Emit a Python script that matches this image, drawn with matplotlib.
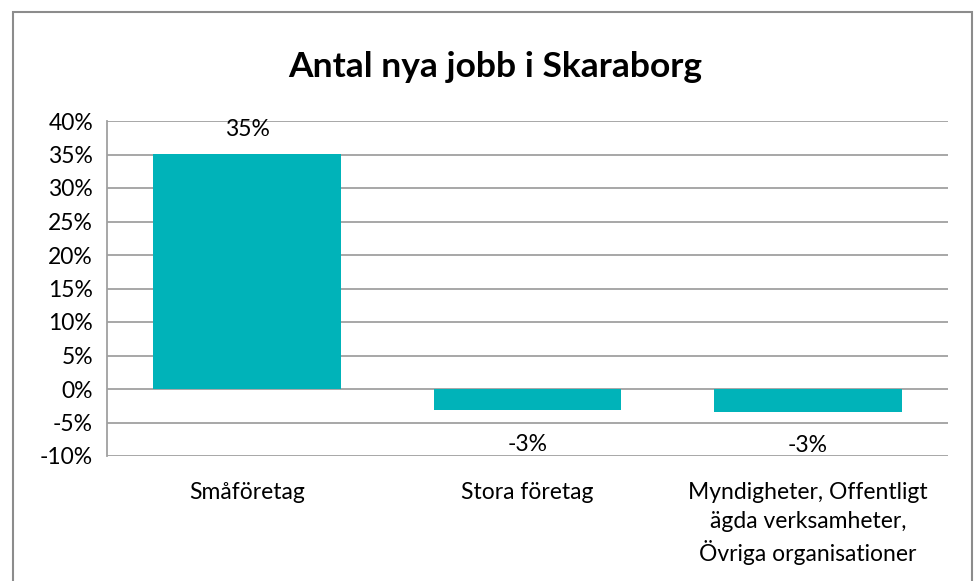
import matplotlib.pyplot as plt
from matplotlib.patches import Rectangle
from matplotlib.ticker import FuncFormatter

categories = ['Småföretag', 'Stora företag',
              'Myndigheter, Offentligt\nägda verksamheter,\nÖvriga organisationer']
values = [35.1, -3.2, -3.4]
labels = ['35%', '-3%', '-3%']

plt.rcParams['font.family'] = ['Lato', 'DejaVu Sans']

fig = plt.figure(figsize=(9.74, 5.81), dpi=100)
fig.patches.append(Rectangle((13 / 974, -0.01), 959 / 974, 1 - 12 / 581 + 0.01,
                             transform=fig.transFigure, fill=False,
                             edgecolor='#8c8c8c', linewidth=1.5))
ax = fig.add_axes([107 / 974, 1 - 456 / 581, (948 - 107) / 974, (456 - 121) / 581])

x = range(len(categories))
ax.bar(x, values, width=0.67, color='#00b3b9', zorder=2)

ax.set_xlim(-0.5, 2.5)
ax.set_ylim(-10, 40)
ax.set_yticks(range(-10, 41, 5))
ax.yaxis.set_major_formatter(FuncFormatter(lambda v, p: '%d%%' % v))
ax.grid(axis='y', color='#a0a0a0', linewidth=1.3, zorder=0)
for s in ['top', 'right', 'bottom']:
    ax.spines[s].set_visible(False)
ax.spines['left'].set_color('#a0a0a0')
ax.spines['left'].set_linewidth(1.3)
ax.tick_params(axis='y', length=0, labelsize=16.5, pad=10)
ax.tick_params(axis='x', length=0, labelsize=16.5, pad=19)
ax.set_xticks(list(x))
ax.set_xticklabels(categories, linespacing=1.42)

for i, v in enumerate(values):
    if v >= 0:
        ax.text(i, v + 3.6, labels[i], ha='center', va='center', fontsize=16.5)
    else:
        ax.text(i, v - 5.1, labels[i], ha='center', va='center', fontsize=16.5)

fig.text(0.508, 1 - 67 / 581, 'Antal nya jobb i Skaraborg', ha='center', va='center',
         fontsize=25.5, fontweight='bold')

fig.savefig('out.png', dpi=100)
